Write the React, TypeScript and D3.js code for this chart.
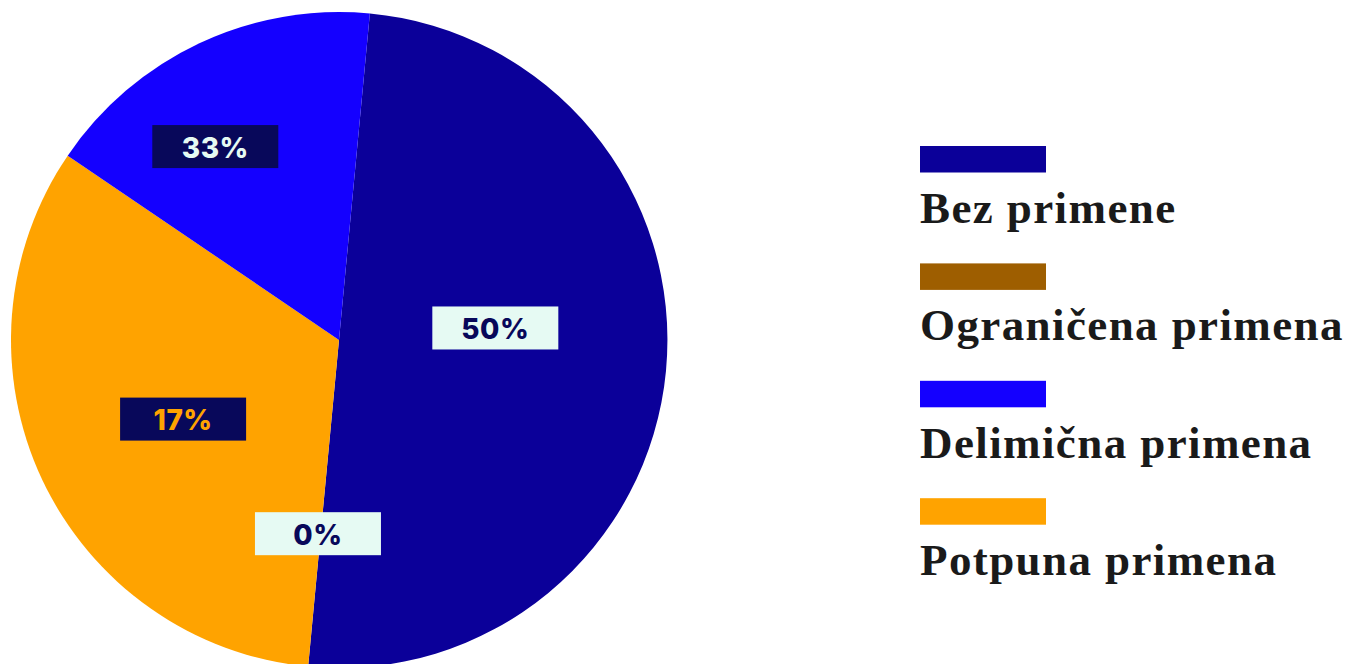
import React from "react";
import * as d3 from "d3";

// Slices in clockwise drawing order, starting near 12 o'clock
const sliceCategories = ["Bez primene", "Ograničena primena", "Potpuna primena", "Delimična primena"];
const sliceValues = [50, 0, 33, 17];
const sliceLabels = ["50%", "0%", "17%", "33%"];

// Legend order
const legendCategories = ["Bez primene", "Ograničena primena", "Delimična primena", "Potpuna primena"];

const colorMap: Record<string, string> = {
  "Bez primene": "#0b0099",
  "Ograničena primena": "#9e5e00",
  "Delimična primena": "#1400ff",
  "Potpuna primena": "#ffa300",
};

const DARK = "#08085a";
const LIGHT = "#e6faf3";
// label style per slice: [background, text]
const labelStyles: [string, string][] = [
  [LIGHT, DARK],
  [LIGHT, DARK],
  [DARK, "#ffa300"],
  [DARK, LIGHT],
];
// label placement relative to slice: [radius fraction, angle offset (deg)]
const labelPlacement: [number, number][] = [
  [0.478, -9.8],
  [0.594, 0.8],
  [0.533, -1.7],
  [0.70, -7.4],
];

export default function App() {
  const W = 1346, H = 664;
  const cx = 339, cy = 340, r = 328;
  const startAngle = (5.4 * Math.PI) / 180;

  const pie = d3
    .pie<number>()
    .sort(null)
    .value((d) => d)
    .startAngle(startAngle)
    .endAngle(startAngle + 2 * Math.PI);
  const arcs = pie(sliceValues);
  const arcGen = d3.arc<d3.PieArcDatum<number>>().innerRadius(0).outerRadius(r);

  const boxW = 126, boxH = 43;

  const legendX = 920, legendY0 = 146, legendStep = 117.4;

  return (
    <svg
      width={W}
      height={H}
      style={{ position: "absolute", left: 0, top: 0, display: "block" }}
    >
      <rect width={W} height={H} fill="#ffffff" />
      <g transform={`translate(${cx},${cy})`}>
        {arcs.map((a, i) => (
          <path key={i} d={arcGen(a) || ""} fill={colorMap[sliceCategories[i]]} />
        ))}
        {arcs.map((a, i) => {
          const mid = (a.startAngle + a.endAngle) / 2 + (labelPlacement[i][1] * Math.PI) / 180;
          const rr = r * labelPlacement[i][0];
          const x = Math.sin(mid) * rr;
          const y = -Math.cos(mid) * rr;
          const [bg, fg] = labelStyles[i];
          return (
            <g key={"l" + i} transform={`translate(${x},${y})`}>
              <rect x={-boxW / 2} y={-boxH / 2} width={boxW} height={boxH} fill={bg} />
              <text
                x={0}
                y={11}
                textAnchor="middle"
                fill={fg}
                fontFamily="Inter, 'Open Sans', sans-serif"
                fontWeight={800}
                fontSize={28}
                letterSpacing={0.5}
              >
                {sliceLabels[i]}
              </text>
            </g>
          );
        })}
      </g>
      <g>
        {legendCategories.map((c, i) => {
          const y = legendY0 + i * legendStep;
          return (
            <g key={c}>
              <rect x={legendX} y={y} width={126} height={26.5} fill={colorMap[c]} />
              <text
                x={legendX}
                y={y + 77}
                fill="#1a1a1a"
                fontFamily="'Liberation Serif', 'Times New Roman', serif"
                fontWeight={700}
                fontSize={45}
                letterSpacing={1.4}
              >
                {c}
              </text>
            </g>
          );
        })}
      </g>
    </svg>
  );
}
